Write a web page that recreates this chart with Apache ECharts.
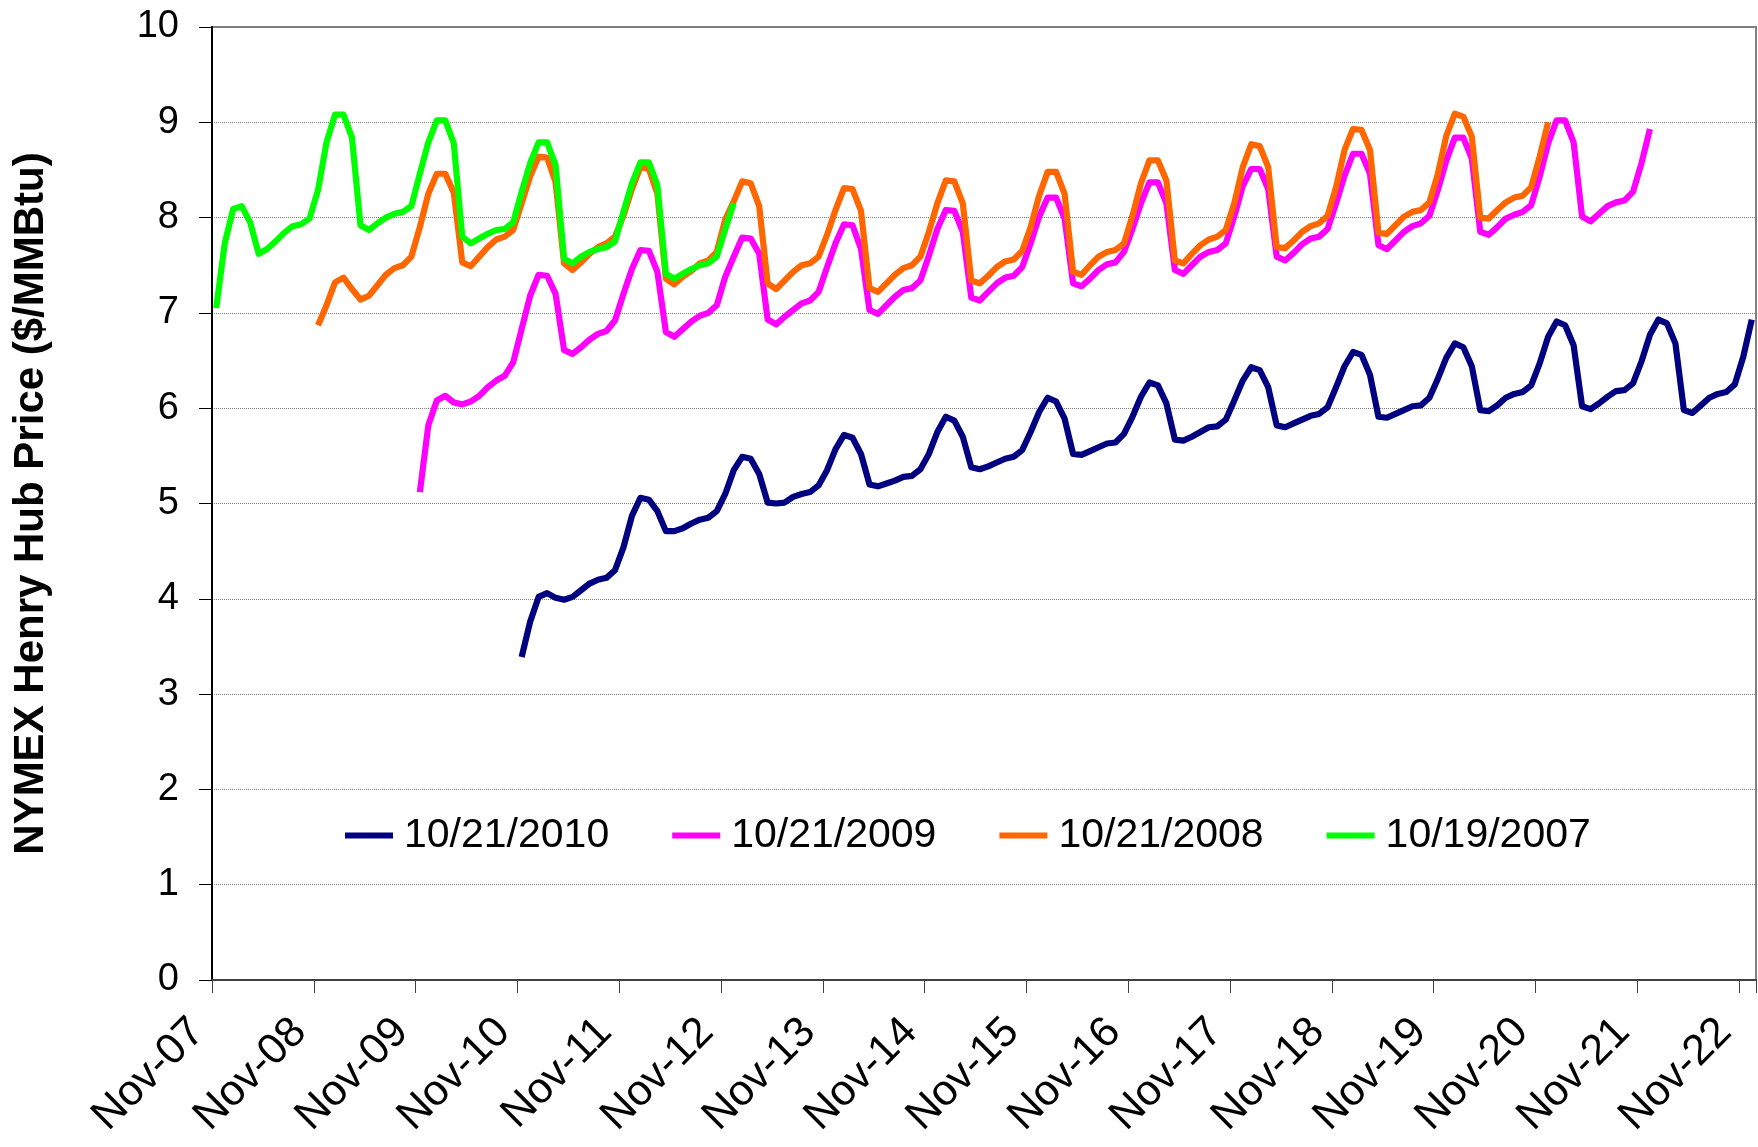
<!DOCTYPE html>
<html>
<head>
<meta charset="utf-8">
<title>NYMEX Henry Hub futures strips</title>
<script src="https://cdn.jsdelivr.net/npm/echarts@6/dist/echarts.min.js"></script>
<style>
  html, body { margin: 0; padding: 0; background: #ffffff; }
  #chart { width: 1758px; height: 1147px; }
</style>
</head>
<body>
<div id="chart"></div>
<script>
// Contract months on the x axis: Nov-07 through Dec-22
const monthNames = ['Jan','Feb','Mar','Apr','May','Jun','Jul','Aug','Sep','Oct','Nov','Dec'];
const categories = [];
for (let y = 2007; y <= 2022; y++) {
  for (let m = 0; m < 12; m++) {
    if (y === 2007 && m < 10) continue;
    categories.push(monthNames[m] + '-' + String(y % 100).padStart(2, '0'));
  }
}

const yTicks = [0, 1, 2, 3, 4, 5, 6, 7, 8, 9, 10];

// Futures strip settled 10/19/2007, first contract Nov-07 ($/MMBtu)
const strip2007Start = 'Nov-07';
const strip2007 = [
  7.05, 7.73, 8.09, 8.12, 7.95, 7.62, 7.67, 7.75, 7.84, 7.91, 7.93, 7.99,
  8.29, 8.79, 9.08, 9.08, 8.84, 7.92, 7.87, 7.94, 8.00, 8.04, 8.06, 8.12,
  8.46, 8.79, 9.02, 9.02, 8.78, 7.80, 7.73, 7.78, 7.83, 7.87, 7.88, 7.95,
  8.27, 8.57, 8.79, 8.79, 8.55, 7.57, 7.52, 7.59, 7.64, 7.67, 7.69, 7.75,
  8.06, 8.36, 8.58, 8.58, 8.34, 7.41, 7.36, 7.41, 7.46, 7.50, 7.52, 7.59,
  7.88, 8.15
];

// Futures strip settled 10/21/2008, first contract Nov-08
const strip2008Start = 'Nov-08';
const strip2008 = [
  6.87, 7.08, 7.32, 7.37, 7.25, 7.14, 7.18, 7.29, 7.40, 7.47, 7.50, 7.59,
  7.90, 8.25, 8.46, 8.46, 8.26, 7.53, 7.49, 7.59, 7.69, 7.77, 7.80, 7.87,
  8.15, 8.43, 8.64, 8.63, 8.37, 7.52, 7.45, 7.53, 7.62, 7.69, 7.73, 7.80,
  8.02, 8.30, 8.53, 8.51, 8.25, 7.36, 7.30, 7.38, 7.44, 7.52, 7.55, 7.64,
  7.98, 8.17, 8.38, 8.36, 8.12, 7.31, 7.25, 7.34, 7.43, 7.50, 7.52, 7.59,
  7.82, 8.08, 8.31, 8.30, 8.07, 7.26, 7.22, 7.31, 7.40, 7.47, 7.50, 7.59,
  7.85, 8.15, 8.39, 8.38, 8.15, 7.34, 7.31, 7.39, 7.48, 7.54, 7.56, 7.65,
  7.90, 8.23, 8.48, 8.48, 8.25, 7.43, 7.40, 7.50, 7.59, 7.64, 7.66, 7.73,
  8.02, 8.36, 8.60, 8.60, 8.39, 7.55, 7.52, 7.62, 7.71, 7.77, 7.80, 7.87,
  8.15, 8.53, 8.77, 8.75, 8.53, 7.69, 7.68, 7.76, 7.85, 7.91, 7.94, 8.02,
  8.32, 8.71, 8.93, 8.92, 8.71, 7.84, 7.83, 7.92, 8.01, 8.06, 8.08, 8.16,
  8.46, 8.86, 9.09, 9.06, 8.85, 8.00, 7.99, 8.08, 8.16, 8.21, 8.23, 8.32,
  8.64, 9.00
];

// Futures strip settled 10/21/2009, first contract Nov-09
const strip2009Start = 'Nov-09';
const strip2009 = [
  5.12, 5.82, 6.08, 6.13, 6.06, 6.04, 6.07, 6.13, 6.22, 6.29, 6.34, 6.48,
  6.83, 7.18, 7.40, 7.39, 7.20, 6.61, 6.57, 6.64, 6.72, 6.78, 6.81, 6.92,
  7.20, 7.46, 7.66, 7.65, 7.43, 6.80, 6.75, 6.83, 6.91, 6.97, 7.00, 7.08,
  7.38, 7.59, 7.79, 7.78, 7.62, 6.93, 6.88, 6.96, 7.03, 7.10, 7.13, 7.22,
  7.48, 7.73, 7.93, 7.92, 7.67, 7.03, 6.99, 7.08, 7.17, 7.24, 7.26, 7.34,
  7.60, 7.88, 8.08, 8.07, 7.85, 7.16, 7.13, 7.22, 7.31, 7.37, 7.39, 7.48,
  7.73, 8.01, 8.21, 8.21, 7.99, 7.31, 7.28, 7.36, 7.45, 7.51, 7.53, 7.64,
  7.88, 8.15, 8.37, 8.37, 8.15, 7.45, 7.41, 7.50, 7.59, 7.64, 7.66, 7.73,
  8.01, 8.33, 8.51, 8.51, 8.30, 7.59, 7.55, 7.63, 7.72, 7.78, 7.80, 7.88,
  8.15, 8.44, 8.67, 8.67, 8.46, 7.71, 7.67, 7.76, 7.85, 7.91, 7.94, 8.02,
  8.29, 8.60, 8.84, 8.84, 8.62, 7.85, 7.82, 7.90, 7.99, 8.03, 8.06, 8.13,
  8.43, 8.78, 9.02, 9.02, 8.79, 8.01, 7.96, 8.04, 8.12, 8.16, 8.18, 8.27,
  8.57, 8.93
];

// Futures strip settled 10/21/2010, first contract Nov-10
const strip2010Start = 'Nov-10';
const strip2010 = [
  3.39, 3.76, 4.02, 4.06, 4.01, 3.99, 4.02, 4.09, 4.16, 4.20, 4.22, 4.30,
  4.54, 4.87, 5.06, 5.04, 4.92, 4.71, 4.71, 4.74, 4.79, 4.83, 4.85, 4.92,
  5.10, 5.35, 5.49, 5.47, 5.31, 5.01, 5.00, 5.01, 5.07, 5.10, 5.12, 5.19,
  5.35, 5.57, 5.72, 5.69, 5.52, 5.20, 5.18, 5.21, 5.24, 5.28, 5.29, 5.36,
  5.52, 5.75, 5.91, 5.87, 5.70, 5.38, 5.36, 5.39, 5.43, 5.47, 5.49, 5.56,
  5.75, 5.96, 6.11, 6.07, 5.89, 5.52, 5.51, 5.55, 5.59, 5.63, 5.64, 5.73,
  5.91, 6.12, 6.27, 6.24, 6.05, 5.67, 5.66, 5.70, 5.75, 5.80, 5.81, 5.88,
  6.08, 6.29, 6.43, 6.40, 6.22, 5.82, 5.80, 5.84, 5.88, 5.92, 5.94, 6.01,
  6.22, 6.44, 6.59, 6.56, 6.35, 5.91, 5.90, 5.94, 5.98, 6.02, 6.03, 6.11,
  6.31, 6.53, 6.68, 6.64, 6.44, 5.98, 5.97, 6.03, 6.11, 6.15, 6.17, 6.24,
  6.47, 6.75, 6.91, 6.87, 6.66, 6.02, 5.99, 6.05, 6.12, 6.18, 6.19, 6.26,
  6.49, 6.77, 6.93, 6.89, 6.68, 5.98, 5.95, 6.03, 6.11, 6.15, 6.17, 6.25,
  6.54, 6.93
];

// Place a strip on the shared month axis (empty before its first contract)
function onAxis(values, startLabel) {
  const offset = categories.indexOf(startLabel);
  const out = new Array(categories.length).fill(null);
  values.forEach((v, i) => { out[offset + i] = v; });
  return out;
}

const FONT = 'Arial, "Liberation Sans", sans-serif';

function strip(name, color, values, start) {
  return {
    name: name,
    type: 'line',
    data: onAxis(values, start),
    symbol: 'none',
    showSymbol: false,
    connectNulls: false,
    color: color,
    itemStyle: { color: color },
    lineStyle: { color: color, width: 6.2, join: 'round', cap: 'butt' },
    emphasis: { disabled: true }
  };
}

const chart = echarts.init(document.getElementById('chart'), null, { renderer: 'canvas' });
chart.setOption({
  animation: false,
  backgroundColor: '#ffffff',
  grid: {
    left: 212, right: 2, top: 27, bottom: 167,
    show: true, borderColor: '#808080', borderWidth: 2,
    outerBoundsMode: 'none'
  },
  xAxis: {
    type: 'category',
    data: categories,
    boundaryGap: true,
    axisLine: { show: true, lineStyle: { color: '#404040', width: 2 } },
    axisTick: { show: true, interval: 11, length: 13, alignWithLabel: false,
                lineStyle: { color: '#404040', width: 1 } },
    axisLabel: { interval: 11, rotate: 45, margin: 27, padding: [0, 26, 0, 0],
                 fontSize: 43, fontFamily: FONT, color: '#000000' },
    splitLine: { show: false }
  },
  yAxis: {
    type: 'value',
    min: yTicks[0], max: yTicks[yTicks.length - 1], interval: 1,
    name: 'NYMEX Henry Hub Price ($/MMBtu)',
    nameLocation: 'middle',
    nameGap: 160,
    nameTextStyle: { fontSize: 42, fontWeight: 'bold', fontFamily: FONT, color: '#000000' },
    axisLine: { show: true, lineStyle: { color: '#000000', width: 2 } },
    axisTick: { show: true, length: 13, lineStyle: { color: '#000000', width: 1 } },
    axisLabel: { margin: 33, fontSize: 38, fontFamily: FONT, color: '#000000' },
    splitLine: { show: true, lineStyle: { color: '#808080', width: 1, type: [1, 1] } }
  },
  legend: {
    left: 340, top: 810,
    orient: 'horizontal',
    icon: 'rect',
    itemWidth: 48, itemHeight: 6, itemGap: 63,
    itemStyle: { borderWidth: 0 },
    textStyle: { fontSize: 41, fontFamily: FONT, color: '#000000', padding: [0, 0, 0, 6] },
    data: ['10/21/2010', '10/21/2009', '10/21/2008', '10/19/2007']
  },
  series: [
    strip('10/21/2010', '#000080', strip2010, strip2010Start),
    strip('10/21/2009', '#FF00FF', strip2009, strip2009Start),
    strip('10/21/2008', '#FF6600', strip2008, strip2008Start),
    strip('10/19/2007', '#00FF00', strip2007, strip2007Start)
  ]
});
</script>
</body>
</html>
